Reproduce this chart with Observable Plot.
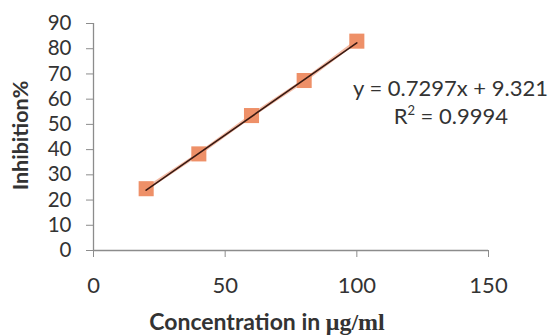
<!DOCTYPE html>
<html>
<head>
<meta charset="utf-8">
<script src="https://cdn.jsdelivr.net/npm/d3@7"></script>
<script src="https://cdn.jsdelivr.net/npm/@observablehq/plot@0.6"></script>
<style>
  html, body { margin: 0; padding: 0; background: #fff; }
  #chart { width: 552px; height: 335px; }
</style>
</head>
<body>
<div id="chart"></div>
<script>
// Data
const concentration = [20, 40, 60, 80, 100];
const inhibition = [24.5, 38.3, 53.5, 67.4, 83.0];
const slope = 0.7297;
const intercept = 9.321;
const equationText = "y = 0.7297x + 9.321";
const r2Text = "0.9994";
const xTicks = [0, 50, 100, 150];
const yTicks = [0, 10, 20, 30, 40, 50, 60, 70, 80, 90];
const yTitle = "Inhibition%";
const xTitleMain = "Concentration in ";
const xTitleUnit = "μg/ml";

const points = concentration.map((c, i) => ({x: c, y: inhibition[i]}));
const xMin = d3.min(concentration), xMax = d3.max(concentration);
const trend = [xMin, xMax].map(x => ({x, y: slope * x + intercept}));

const font = "Lato, 'Open Sans', sans-serif";
const axisColor = "#8c8c8c";
const textColor = "#333";

const chart = Plot.plot({
  width: 552,
  height: 335,
  marginLeft: 93,
  marginRight: 64,
  marginTop: 23,
  marginBottom: 85,
  style: {fontFamily: font, fontSize: "22px", color: textColor, background: "#fff"},
  x: {domain: [0, 150]},
  y: {domain: [0, 90]},
  marks: [
    Plot.ruleY([0], {stroke: axisColor, strokeWidth: 1.3}),
    Plot.ruleX([0], {stroke: axisColor, strokeWidth: 1.3}),
    Plot.axisX({ticks: xTicks, tickSize: 7, tickPadding: 20, stroke: axisColor, fill: textColor, label: null, fontSize: 22}),
    Plot.axisY({ticks: yTicks, tickSize: 7, tickPadding: 15, stroke: axisColor, fill: textColor, label: null, fontSize: 20.5}),
    Plot.line(points, {x: "x", y: "y", stroke: "#f0a080", strokeWidth: 3.5, strokeOpacity: 0.7}),
    Plot.dot(points, {x: "x", y: "y", symbol: "square", r: 8.5, fill: "#ee9068", stroke: "none"}),
    Plot.line(trend, {x: "x", y: "y", stroke: "#3a1a12", strokeWidth: 1.6})
  ]
});

document.getElementById("chart").appendChild(chart);

const svg = d3.select(chart);
const sy = chart.scale("y");

// y axis title
svg.append("text")
  .attr("transform", `translate(28, ${sy.apply(45) - 1}) rotate(-90)`)
  .attr("text-anchor", "middle")
  .attr("font-family", font)
  .attr("font-weight", "bold")
  .attr("font-size", 21.5)
  .attr("fill", textColor)
  .text(yTitle);

// x axis title
const xt = svg.append("text")
  .attr("x", 267)
  .attr("y", 330)
  .attr("text-anchor", "middle")
  .attr("font-family", font)
  .attr("font-weight", "bold")
  .attr("font-size", 23)
  .attr("fill", textColor);
xt.append("tspan").text(xTitleMain);
xt.append("tspan").attr("font-family", "'Liberation Serif', serif").attr("font-size", 24).text(xTitleUnit);

// equation
svg.append("text")
  .attr("x", 548)
  .attr("y", 96)
  .attr("text-anchor", "end")
  .attr("font-family", font)
  .attr("font-size", 22)
  .attr("fill", textColor)
  .text(equationText);

const r2 = svg.append("text")
  .attr("x", 508)
  .attr("y", 124)
  .attr("text-anchor", "end")
  .attr("font-family", font)
  .attr("font-size", 22)
  .attr("fill", textColor);
r2.append("tspan").text("R");
r2.append("tspan").attr("font-size", 13).attr("dy", -9).text("2");
r2.append("tspan").attr("dy", 9).text(" = " + r2Text);
</script>
</body>
</html>
